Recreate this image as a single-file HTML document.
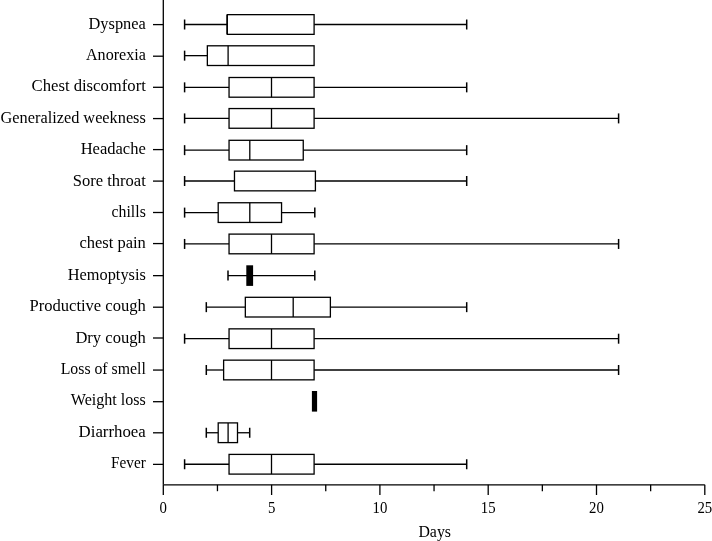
<!DOCTYPE html>
<html><head><meta charset="utf-8"><style>
html,body{margin:0;padding:0;background:#fff;}
body{width:712px;height:541px;overflow:hidden;}
svg{display:block;will-change:transform;}
text{font-family:"Liberation Serif",serif;font-size:16px;fill:#000;stroke:none;}
</style></head><body>
<svg width="712" height="541" viewBox="0 0 712 541">
<g stroke="#000" fill="none" stroke-linecap="butt">
<line x1="153.00" y1="24.60" x2="163.30" y2="24.60" stroke-width="1.3"/>
<text x="145.8" y="28.60" text-anchor="end" textLength="57.3" lengthAdjust="spacingAndGlyphs">Dyspnea</text>
<line x1="184.60" y1="24.50" x2="227.31" y2="24.50" stroke-width="1.3"/>
<line x1="184.60" y1="19.50" x2="184.60" y2="29.50" stroke-width="1.5"/>
<line x1="314.10" y1="24.50" x2="466.70" y2="24.50" stroke-width="1.3"/>
<line x1="466.70" y1="19.50" x2="466.70" y2="29.50" stroke-width="1.5"/>
<rect x="227.31" y="14.65" width="86.79" height="19.70" fill="#fff" stroke-width="1.3"/>
<line x1="227.02" y1="14.65" x2="227.02" y2="34.35" stroke-width="1.3"/>
<line x1="153.00" y1="56.20" x2="163.30" y2="56.20" stroke-width="1.3"/>
<text x="145.8" y="60.20" text-anchor="end" textLength="59.8" lengthAdjust="spacingAndGlyphs">Anorexia</text>
<line x1="184.60" y1="55.65" x2="207.35" y2="55.65" stroke-width="1.3"/>
<line x1="184.60" y1="50.65" x2="184.60" y2="60.65" stroke-width="1.5"/>
<rect x="207.35" y="45.80" width="106.75" height="19.70" fill="#fff" stroke-width="1.3"/>
<line x1="228.10" y1="45.80" x2="228.10" y2="65.50" stroke-width="1.3"/>
<line x1="153.00" y1="87.30" x2="163.30" y2="87.30" stroke-width="1.3"/>
<text x="145.8" y="91.30" text-anchor="end" textLength="114.2" lengthAdjust="spacingAndGlyphs">Chest discomfort</text>
<line x1="184.60" y1="87.35" x2="229.05" y2="87.35" stroke-width="1.3"/>
<line x1="184.60" y1="82.35" x2="184.60" y2="92.35" stroke-width="1.5"/>
<line x1="314.10" y1="87.35" x2="466.70" y2="87.35" stroke-width="1.3"/>
<line x1="466.70" y1="82.35" x2="466.70" y2="92.35" stroke-width="1.5"/>
<rect x="229.05" y="77.50" width="85.05" height="19.70" fill="#fff" stroke-width="1.3"/>
<line x1="271.50" y1="77.50" x2="271.50" y2="97.20" stroke-width="1.3"/>
<line x1="153.00" y1="118.57" x2="163.30" y2="118.57" stroke-width="1.3"/>
<text x="145.8" y="122.57" text-anchor="end" textLength="145.2" lengthAdjust="spacingAndGlyphs">Generalized weekness</text>
<line x1="184.60" y1="118.40" x2="229.05" y2="118.40" stroke-width="1.3"/>
<line x1="184.60" y1="113.40" x2="184.60" y2="123.40" stroke-width="1.5"/>
<line x1="314.10" y1="118.40" x2="618.60" y2="118.40" stroke-width="1.3"/>
<line x1="618.60" y1="113.40" x2="618.60" y2="123.40" stroke-width="1.5"/>
<rect x="229.05" y="108.55" width="85.05" height="19.70" fill="#fff" stroke-width="1.3"/>
<line x1="271.50" y1="108.55" x2="271.50" y2="128.25" stroke-width="1.3"/>
<line x1="153.00" y1="149.60" x2="163.30" y2="149.60" stroke-width="1.3"/>
<text x="145.8" y="153.60" text-anchor="end" textLength="65.1" lengthAdjust="spacingAndGlyphs">Headache</text>
<line x1="184.60" y1="150.15" x2="229.05" y2="150.15" stroke-width="1.3"/>
<line x1="184.60" y1="145.15" x2="184.60" y2="155.15" stroke-width="1.5"/>
<line x1="303.25" y1="150.15" x2="466.70" y2="150.15" stroke-width="1.3"/>
<line x1="466.70" y1="145.15" x2="466.70" y2="155.15" stroke-width="1.5"/>
<rect x="229.05" y="140.30" width="74.20" height="19.70" fill="#fff" stroke-width="1.3"/>
<line x1="249.80" y1="140.30" x2="249.80" y2="160.00" stroke-width="1.3"/>
<line x1="153.00" y1="181.10" x2="163.30" y2="181.10" stroke-width="1.3"/>
<text x="145.8" y="186.10" text-anchor="end" textLength="73.1" lengthAdjust="spacingAndGlyphs">Sore throat</text>
<line x1="184.60" y1="181.00" x2="234.48" y2="181.00" stroke-width="1.3"/>
<line x1="184.60" y1="176.00" x2="184.60" y2="186.00" stroke-width="1.5"/>
<line x1="315.40" y1="181.00" x2="466.70" y2="181.00" stroke-width="1.3"/>
<line x1="466.70" y1="176.00" x2="466.70" y2="186.00" stroke-width="1.5"/>
<rect x="234.48" y="171.15" width="80.93" height="19.70" fill="#fff" stroke-width="1.3"/>
<line x1="153.00" y1="212.50" x2="163.30" y2="212.50" stroke-width="1.3"/>
<text x="145.8" y="216.50" text-anchor="end" textLength="34.2" lengthAdjust="spacingAndGlyphs">chills</text>
<line x1="184.60" y1="212.60" x2="218.20" y2="212.60" stroke-width="1.3"/>
<line x1="184.60" y1="207.60" x2="184.60" y2="217.60" stroke-width="1.5"/>
<line x1="281.55" y1="212.60" x2="314.80" y2="212.60" stroke-width="1.3"/>
<line x1="314.80" y1="207.60" x2="314.80" y2="217.60" stroke-width="1.5"/>
<rect x="218.20" y="202.75" width="63.35" height="19.70" fill="#fff" stroke-width="1.3"/>
<line x1="249.80" y1="202.75" x2="249.80" y2="222.45" stroke-width="1.3"/>
<line x1="153.00" y1="243.57" x2="163.30" y2="243.57" stroke-width="1.3"/>
<text x="145.8" y="247.57" text-anchor="end" textLength="66.4" lengthAdjust="spacingAndGlyphs">chest pain</text>
<line x1="184.60" y1="243.95" x2="229.05" y2="243.95" stroke-width="1.3"/>
<line x1="184.60" y1="238.95" x2="184.60" y2="248.95" stroke-width="1.5"/>
<line x1="314.10" y1="243.95" x2="618.60" y2="243.95" stroke-width="1.3"/>
<line x1="618.60" y1="238.95" x2="618.60" y2="248.95" stroke-width="1.5"/>
<rect x="229.05" y="234.10" width="85.05" height="19.70" fill="#fff" stroke-width="1.3"/>
<line x1="271.50" y1="234.10" x2="271.50" y2="253.80" stroke-width="1.3"/>
<line x1="153.00" y1="275.65" x2="163.30" y2="275.65" stroke-width="1.3"/>
<text x="145.8" y="279.65" text-anchor="end" textLength="78" lengthAdjust="spacingAndGlyphs">Hemoptysis</text>
<line x1="228.00" y1="275.60" x2="314.80" y2="275.60" stroke-width="1.3"/>
<line x1="228.00" y1="270.60" x2="228.00" y2="280.60" stroke-width="1.5"/>
<line x1="314.80" y1="270.60" x2="314.80" y2="280.60" stroke-width="1.5"/>
<rect x="246.30" y="265.30" width="6.8" height="20.6" fill="#000" stroke="none"/>
<line x1="153.00" y1="307.20" x2="163.30" y2="307.20" stroke-width="1.3"/>
<text x="145.8" y="311.20" text-anchor="end" textLength="116.3" lengthAdjust="spacingAndGlyphs">Productive cough</text>
<line x1="206.30" y1="307.15" x2="245.33" y2="307.15" stroke-width="1.3"/>
<line x1="206.30" y1="302.15" x2="206.30" y2="312.15" stroke-width="1.5"/>
<line x1="330.38" y1="307.15" x2="466.70" y2="307.15" stroke-width="1.3"/>
<line x1="466.70" y1="302.15" x2="466.70" y2="312.15" stroke-width="1.5"/>
<rect x="245.33" y="297.30" width="85.05" height="19.70" fill="#fff" stroke-width="1.3"/>
<line x1="293.20" y1="297.30" x2="293.20" y2="317.00" stroke-width="1.3"/>
<line x1="153.00" y1="338.00" x2="163.30" y2="338.00" stroke-width="1.3"/>
<text x="145.8" y="342.60" text-anchor="end" textLength="70.4" lengthAdjust="spacingAndGlyphs">Dry cough</text>
<line x1="184.60" y1="338.70" x2="229.05" y2="338.70" stroke-width="1.3"/>
<line x1="184.60" y1="333.70" x2="184.60" y2="343.70" stroke-width="1.5"/>
<line x1="314.10" y1="338.70" x2="618.60" y2="338.70" stroke-width="1.3"/>
<line x1="618.60" y1="333.70" x2="618.60" y2="343.70" stroke-width="1.5"/>
<rect x="229.05" y="328.85" width="85.05" height="19.70" fill="#fff" stroke-width="1.3"/>
<line x1="271.50" y1="328.85" x2="271.50" y2="348.55" stroke-width="1.3"/>
<line x1="153.00" y1="370.06" x2="163.30" y2="370.06" stroke-width="1.3"/>
<text x="145.8" y="374.06" text-anchor="end" textLength="85.1" lengthAdjust="spacingAndGlyphs">Loss of smell</text>
<line x1="206.30" y1="370.00" x2="223.62" y2="370.00" stroke-width="1.3"/>
<line x1="206.30" y1="365.00" x2="206.30" y2="375.00" stroke-width="1.5"/>
<line x1="314.10" y1="370.00" x2="618.60" y2="370.00" stroke-width="1.3"/>
<line x1="618.60" y1="365.00" x2="618.60" y2="375.00" stroke-width="1.5"/>
<rect x="223.62" y="360.15" width="90.48" height="19.70" fill="#fff" stroke-width="1.3"/>
<line x1="271.50" y1="360.15" x2="271.50" y2="379.85" stroke-width="1.3"/>
<line x1="153.00" y1="401.70" x2="163.30" y2="401.70" stroke-width="1.3"/>
<text x="145.8" y="405.10" text-anchor="end" textLength="75" lengthAdjust="spacingAndGlyphs">Weight loss</text>
<rect x="311.90" y="391.00" width="5.2" height="20.6" fill="#000" stroke="none"/>
<line x1="153.00" y1="432.80" x2="163.30" y2="432.80" stroke-width="1.3"/>
<text x="145.8" y="436.80" text-anchor="end" textLength="67.2" lengthAdjust="spacingAndGlyphs">Diarrhoea</text>
<line x1="206.30" y1="432.75" x2="218.20" y2="432.75" stroke-width="1.3"/>
<line x1="206.30" y1="427.75" x2="206.30" y2="437.75" stroke-width="1.5"/>
<line x1="237.50" y1="432.75" x2="249.70" y2="432.75" stroke-width="1.3"/>
<line x1="249.70" y1="427.75" x2="249.70" y2="437.75" stroke-width="1.5"/>
<rect x="218.20" y="422.90" width="19.30" height="19.70" fill="#fff" stroke-width="1.3"/>
<line x1="228.10" y1="422.90" x2="228.10" y2="442.60" stroke-width="1.3"/>
<line x1="153.00" y1="464.38" x2="163.30" y2="464.38" stroke-width="1.3"/>
<text x="145.8" y="468.08" text-anchor="end" textLength="34.8" lengthAdjust="spacingAndGlyphs">Fever</text>
<line x1="184.60" y1="464.25" x2="229.05" y2="464.25" stroke-width="1.3"/>
<line x1="184.60" y1="459.25" x2="184.60" y2="469.25" stroke-width="1.5"/>
<line x1="314.10" y1="464.25" x2="466.70" y2="464.25" stroke-width="1.3"/>
<line x1="466.70" y1="459.25" x2="466.70" y2="469.25" stroke-width="1.5"/>
<rect x="229.05" y="454.40" width="85.05" height="19.70" fill="#fff" stroke-width="1.3"/>
<line x1="271.50" y1="454.40" x2="271.50" y2="474.10" stroke-width="1.3"/>
<line x1="163.30" y1="-2.00" x2="163.30" y2="484.80" stroke-width="1.3"/>
<line x1="163.30" y1="484.80" x2="704.80" y2="484.80" stroke-width="1.3"/>
<line x1="163.30" y1="484.80" x2="163.30" y2="495.00" stroke-width="1.3"/>
<text x="163.30" y="513" text-anchor="middle" textLength="7.4" lengthAdjust="spacingAndGlyphs">0</text>
<line x1="271.60" y1="484.80" x2="271.60" y2="495.00" stroke-width="1.3"/>
<text x="271.60" y="513" text-anchor="middle" textLength="7.4" lengthAdjust="spacingAndGlyphs">5</text>
<line x1="379.90" y1="484.80" x2="379.90" y2="495.00" stroke-width="1.3"/>
<text x="379.90" y="513" text-anchor="middle" textLength="14.8" lengthAdjust="spacingAndGlyphs">10</text>
<line x1="488.20" y1="484.80" x2="488.20" y2="495.00" stroke-width="1.3"/>
<text x="488.20" y="513" text-anchor="middle" textLength="14.8" lengthAdjust="spacingAndGlyphs">15</text>
<line x1="596.50" y1="484.80" x2="596.50" y2="495.00" stroke-width="1.3"/>
<text x="596.50" y="513" text-anchor="middle" textLength="14.8" lengthAdjust="spacingAndGlyphs">20</text>
<line x1="704.80" y1="484.80" x2="704.80" y2="495.00" stroke-width="1.3"/>
<text x="704.80" y="513" text-anchor="middle" textLength="14.8" lengthAdjust="spacingAndGlyphs">25</text>
<line x1="217.45" y1="484.80" x2="217.45" y2="491.20" stroke-width="1.3"/>
<line x1="325.75" y1="484.80" x2="325.75" y2="491.20" stroke-width="1.3"/>
<line x1="434.05" y1="484.80" x2="434.05" y2="491.20" stroke-width="1.3"/>
<line x1="542.35" y1="484.80" x2="542.35" y2="491.20" stroke-width="1.3"/>
<line x1="650.65" y1="484.80" x2="650.65" y2="491.20" stroke-width="1.3"/>
<text x="434.7" y="537" text-anchor="middle" textLength="32.6" lengthAdjust="spacingAndGlyphs">Days</text>
</g>
</svg>
</body></html>
